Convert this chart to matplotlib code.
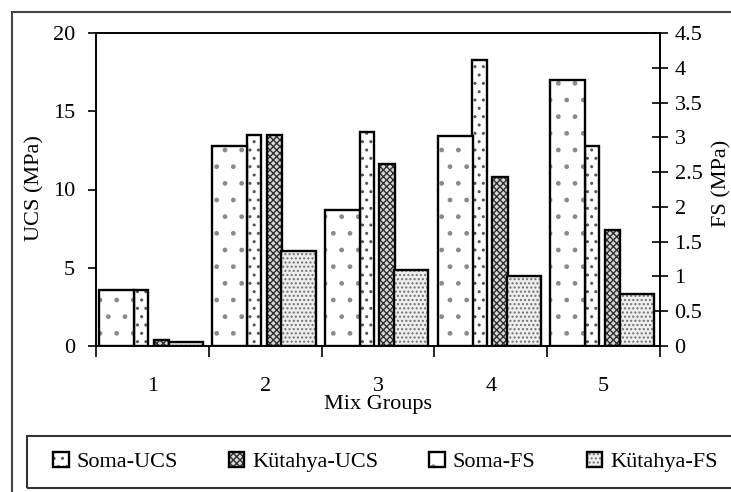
#!/usr/bin/env python
import numpy as np
import matplotlib
matplotlib.use('Agg')
import matplotlib.pyplot as plt
from matplotlib.patches import Rectangle

# Data
groups = ['1','2','3','4','5']
soma_ucs = [3.6,13.5,13.7,18.3,12.8]     # MPa, left axis
kutahya_ucs = [0.4,13.5,11.6,10.8,7.4]   # MPa, left axis
soma_fs = [0.81,2.88,1.96,3.02,3.83]     # MPa, right axis
kutahya_fs = [0.06,1.37,1.09,1.01,0.75]  # MPa, right axis

# Style
plt.rcParams['font.family'] = ['Liberation Serif','DejaVu Serif']
plt.rcParams['font.size'] = 16
plt.rcParams['hatch.linewidth'] = 1.0
W,H = 731,492
LW = 1.7

fig = plt.figure(figsize=(W/100,H/100),dpi=100,facecolor='w')
ax1 = fig.add_axes([96/W,1-346/H,(660-96)/W,(346-33)/H])
ax2 = ax1.twinx()

xp = np.arange(1,len(groups)+1)

def hbar(ax,off,wid,val,hatch,hcol,fcol='w'):
    h = ax.bar(xp+off,val,wid,color=fcol,edgecolor=hcol,hatch=hatch,linewidth=0,zorder=2)
    o = ax.bar(xp+off,val,wid,fill=False,edgecolor='k',linewidth=LW,zorder=3)
    return (h,o)

h_sucs = hbar(ax1,-0.100,0.125,soma_ucs,'..','#555555')
h_kucs = hbar(ax1,0.081,0.136,kutahya_ucs,'xxxxx','#303030',fcol='#d8d8d8')
h_sfs = hbar(ax2,-0.316,0.310,soma_fs,'.','#8a8a8a')
h_kfs = hbar(ax2,0.295,0.303,kutahya_fs,'....','#707070',fcol='#eeeeee')

# Axes
ax1.set_xlim(0.5,len(groups)+0.5)
ax1.set_ylim(0,20)
ax2.set_ylim(0,4.5)
ax1.set_yticks(np.arange(0,21,5))
ax2.set_yticks(np.arange(0,4.51,0.5))
ax2.set_yticklabels(['0','0.5','1','1.5','2','2.5','3','3.5','4','4.5'])
ax1.set_xticks(xp)
ax1.set_xticklabels(groups)
ax1.set_xticks(np.arange(0.5,len(groups)+1),minor=True)
ax1.tick_params(axis='x',which='major',length=0,pad=22)
ax1.tick_params(axis='x',which='minor',length=8,width=1.2,direction='out')
ax1.tick_params(axis='y',length=6,width=1.2,direction='out',pad=9)
ax2.tick_params(axis='y',length=11,width=1.2,direction='inout',pad=5)
for ax in [ax1,ax2]:
    for s in ax.spines.values():
        s.set_linewidth(1.2)
ax1.set_ylabel('UCS (MPa)')
ax1.yaxis.set_label_coords(-0.092,0.505)
ax2.set_ylabel('FS (MPa)',rotation=90)
ax2.yaxis.set_label_coords(1.092,0.52)
ax1.set_xlabel('Mix Groups')
ax1.xaxis.set_label_coords(0.5,-0.155)

# Legend
fig.legend([h_sucs,h_kucs,h_sfs,h_kfs],['Soma-UCS','K\u00fctahya-UCS','Soma-FS','K\u00fctahya-FS'],
           loc='center left',bbox_to_anchor=(53/W,1-462/H),ncol=4,frameon=False,borderpad=0,
           borderaxespad=0,handlelength=0.7,handleheight=0.7,handletextpad=0.35,
           columnspacing=2.3,fontsize=16)
fig.add_artist(Rectangle((27/W,4/H),1.2,52/H,transform=fig.transFigure,fill=False,
                         edgecolor='#333333',linewidth=1.5,clip_on=False))
# Outer frame
fig.add_artist(Rectangle((12/W,-0.1),1.2,0.1+(H-12)/H,transform=fig.transFigure,fill=False,
                         edgecolor='#444444',linewidth=1.5,clip_on=False))

plt.savefig('out.png',dpi=100)
